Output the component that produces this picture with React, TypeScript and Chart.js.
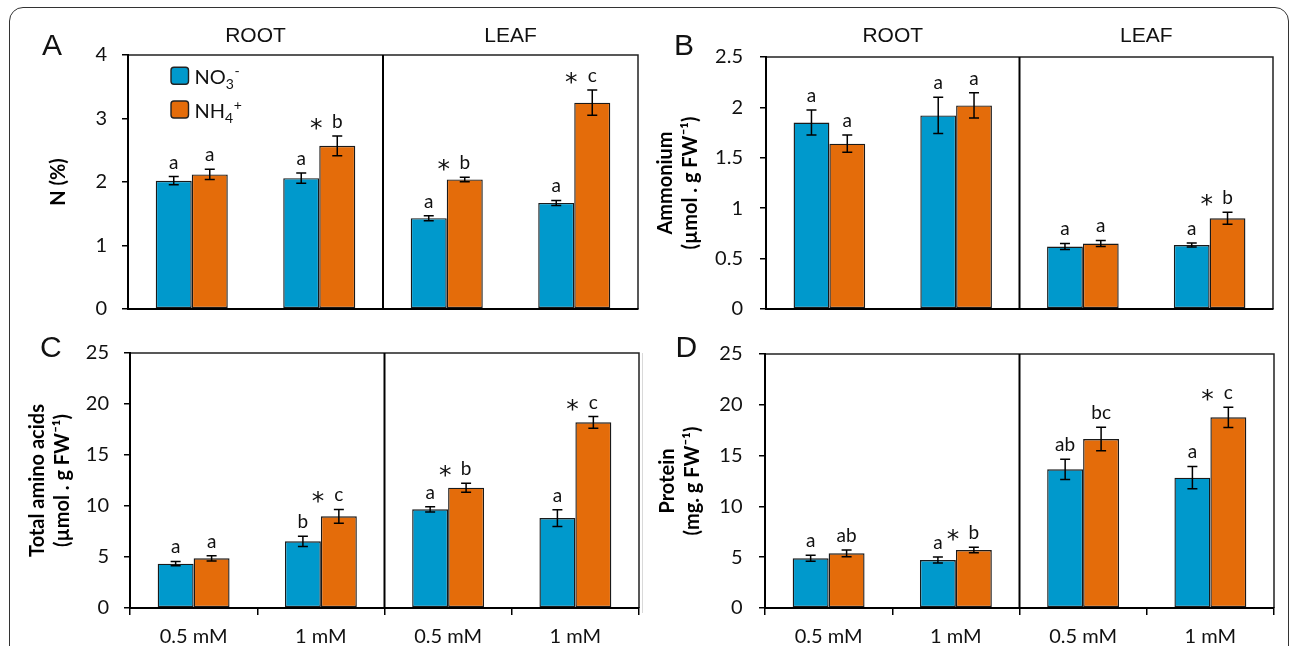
import React, { useEffect, useRef } from 'react';
import { Chart, registerables } from 'chart.js';

Chart.register(...registerables);

// ---------- data ----------
const categories = ['0.5 mM', '1 mM', '0.5 mM', '1 mM'];
const tissues = ['ROOT', 'LEAF'];
const seriesLabels = ['NO₃⁻', 'NH₄⁺'];
const legendBase = ['NO', 'NH'];
const legendSub = ['3', '4'];
const legendSup = ['-', '+'];

// Panel A: N (%)
const nTicks = [0, 1, 2, 3, 4];
const nNo3 = [2.02, 2.06, 1.43, 1.67];
const nNo3Err = [0.065, 0.08, 0.04, 0.04];
const nNh4 = [2.12, 2.57, 2.04, 3.25];
const nNh4Err = [0.08, 0.155, 0.035, 0.2];
const nNo3Letters = ['a', 'a', 'a', 'a'];
const nNh4Letters = ['a', 'b', 'b', 'c'];
const nStars = [false, true, true, true];

// Panel B: Ammonium
const amTicks = [0, 0.5, 1, 1.5, 2, 2.5];
const amNo3 = [1.85, 1.92, 0.62, 0.635];
const amNo3Err = [0.125, 0.18, 0.03, 0.02];
const amNh4 = [1.64, 2.02, 0.65, 0.9];
const amNh4Err = [0.085, 0.125, 0.03, 0.06];
const amNo3Letters = ['a', 'a', 'a', 'a'];
const amNh4Letters = ['a', 'a', 'a', 'b'];
const amStars = [false, false, false, true];

// Panel C: Total amino acids
const aaTicks = [0, 5, 10, 15, 20, 25];
const aaNo3 = [4.35, 6.54, 9.67, 8.82];
const aaNo3Err = [0.22, 0.5, 0.25, 0.82];
const aaNh4 = [4.87, 8.99, 11.8, 18.2];
const aaNh4Err = [0.26, 0.67, 0.44, 0.57];
const aaNo3Letters = ['a', 'b', 'a', 'a'];
const aaNh4Letters = ['a', 'c', 'b', 'c'];
const aaStars = [false, true, true, true];

// Panel D: Protein
const prTicks = [0, 5, 10, 15, 20, 25];
const prNo3 = [4.89, 4.72, 13.65, 12.83];
const prNo3Err = [0.3, 0.3, 1.0, 1.1];
const prNh4 = [5.38, 5.71, 16.63, 18.77];
const prNh4Err = [0.33, 0.28, 1.16, 1.0];
const prNo3Letters = ['a', 'a', 'ab', 'a'];
const prNh4Letters = ['ab', 'b', 'bc', 'c'];
const prStars = [false, true, false, true];

// ---------- styles ----------
const BLUE = '#0099CC';
const ORANGE = '#E46C0A';
const EDGE = '#1a1a1a';
const TEXT = '#111';
const SANS = 'Lato, "DejaVu Sans", sans-serif';
const ARIAL = '"Liberation Sans", Arial, sans-serif';
const STAR_FONT = '"DejaVu Sans", sans-serif';

type PanelData = {
  letter: string;
  yTitle: string | string[];
  yTicks: number[];
  no3: number[];
  no3Err: number[];
  nh4: number[];
  nh4Err: number[];
  no3Letters: string[];
  nh4Letters: string[];
  stars: boolean[];
  showX: boolean;
  showTissue: boolean;
  showLegend: boolean;
};

type PanelLayout = {
  left: number;
  top: number;
  width: number;
  height: number;
  padT: number;
  padR: number;
  yW: number;
  xH: number;
  titlePad: number;
  tickPad: number;
  letterX: number;
  letterY: number;
};

const panels: { data: PanelData; layout: PanelLayout }[] = [
  {
    data: {
      letter: 'A', yTitle: 'N (%)', yTicks: nTicks,
      no3: nNo3, no3Err: nNo3Err, nh4: nNh4, nh4Err: nNh4Err,
      no3Letters: nNo3Letters, nh4Letters: nNh4Letters, stars: nStars,
      showX: false, showTissue: true, showLegend: true,
    },
    layout: { left: 0, top: 0, width: 646, height: 350, padT: 55, padR: 8, yW: 128, xH: 41, titlePad: 46.4, tickPad: 15, letterX: 42, letterY: 55 },
  },
  {
    data: {
      letter: 'B', yTitle: ['Ammonium', '(µmol . g FW⁻¹)'], yTicks: amTicks,
      no3: amNo3, no3Err: amNo3Err, nh4: amNh4, nh4Err: amNh4Err,
      no3Letters: amNo3Letters, nh4Letters: amNh4Letters, stars: amStars,
      showX: false, showTissue: true, showLegend: false,
    },
    layout: { left: 646, top: 0, width: 646, height: 350, padT: 57, padR: 19, yW: 120, xH: 41, titlePad: 7.1, tickPad: 17, letterX: 28, letterY: 55 },
  },
  {
    data: {
      letter: 'C', yTitle: ['Total amino acids', '(µmol . g FW⁻¹)'], yTicks: aaTicks,
      no3: aaNo3, no3Err: aaNo3Err, nh4: aaNh4, nh4Err: aaNh4Err,
      no3Letters: aaNo3Letters, nh4Letters: aaNh4Letters, stars: aaStars,
      showX: true, showTissue: false, showLegend: false,
    },
    layout: { left: 0, top: 323, width: 646, height: 323, padT: 30, padR: 7, yW: 130, xH: 38, titlePad: 24.8, tickPad: 15, letterX: 40, letterY: 33.5 },
  },
  {
    data: {
      letter: 'D', yTitle: ['Protein', '(mg. g FW⁻¹)'], yTicks: prTicks,
      no3: prNo3, no3Err: prNo3Err, nh4: prNh4, nh4Err: prNh4Err,
      no3Letters: prNo3Letters, nh4Letters: prNh4Letters, stars: prStars,
      showX: true, showTissue: false, showLegend: false,
    },
    layout: { left: 646, top: 323, width: 646, height: 323, padT: 31, padR: 18, yW: 119, xH: 38, titlePad: 8.8, tickPad: 16.5, letterX: 29.6, letterY: 33.5 },
  },
];

// ---------- plugin ----------
const decorPlugin = {
  id: 'decor',
  afterDatasetsDraw(chart: any, _args: any, opts: any) {
    const p: PanelData = opts.panel;
    const ctx: CanvasRenderingContext2D = chart.ctx;
    const xs = chart.scales.x;
    const ys = chart.scales.y;
    const ca = chart.chartArea;
    ctx.save();
    // plot box top & right
    ctx.strokeStyle = '#222';
    ctx.lineWidth = 1.5;
    ctx.beginPath();
    ctx.moveTo(ca.left, ca.top);
    ctx.lineTo(ca.right, ca.top);
    ctx.lineTo(ca.right, ca.bottom);
    ctx.stroke();
    // ROOT / LEAF divider
    const dx = xs.getPixelForValue(1.5);
    ctx.strokeStyle = '#000';
    ctx.lineWidth = 2;
    ctx.beginPath();
    ctx.moveTo(dx, ca.top);
    ctx.lineTo(dx, ca.bottom);
    ctx.stroke();

    const sets = [
      { vals: p.no3, errs: p.no3Err, letters: p.no3Letters },
      { vals: p.nh4, errs: p.nh4Err, letters: p.nh4Letters },
    ];
    sets.forEach((s, d) => {
      const meta = chart.getDatasetMeta(d);
      meta.data.forEach((bar: any, i: number) => {
        const x = bar.x;
        const hi = ys.getPixelForValue(s.vals[i] + s.errs[i]);
        const lo = ys.getPixelForValue(s.vals[i] - s.errs[i]);
        ctx.strokeStyle = '#000';
        ctx.lineWidth = 1.5;
        ctx.beginPath();
        ctx.moveTo(x, hi);
        ctx.lineTo(x, lo);
        ctx.moveTo(x - 5, hi);
        ctx.lineTo(x + 5, hi);
        ctx.moveTo(x - 5, lo);
        ctx.lineTo(x + 5, lo);
        ctx.stroke();
        const base = hi - 8;
        ctx.fillStyle = TEXT;
        ctx.textAlign = 'center';
        ctx.textBaseline = 'alphabetic';
        ctx.font = `19px ${SANS}`;
        ctx.fillText(s.letters[i], x, base);
        if (d === 1 && p.stars[i]) {
          ctx.font = `25px ${STAR_FONT}`;
          const m = ctx.measureText('*');
          const cy = base - 4;
          const yy = cy + (m.actualBoundingBoxAscent - m.actualBoundingBoxDescent) / 2;
          ctx.fillText('*', bar.x - bar.width / 2 - 3, yy);
        }
      });
    });
    ctx.restore();
  },
  afterDraw(chart: any, _args: any, opts: any) {
    const p: PanelData = opts.panel;
    const L: PanelLayout = opts.layout;
    const ctx: CanvasRenderingContext2D = chart.ctx;
    const xs = chart.scales.x;
    const ca = chart.chartArea;
    ctx.save();
    ctx.fillStyle = TEXT;
    ctx.textBaseline = 'alphabetic';
    // panel letter
    ctx.font = `30px ${ARIAL}`;
    ctx.textAlign = 'left';
    ctx.fillText(p.letter, L.letterX, L.letterY);
    // tissue labels
    if (p.showTissue) {
      ctx.font = `21px ${ARIAL}`;
      ctx.textAlign = 'center';
      tissues.forEach((t, k) => {
        ctx.fillText(t, xs.getPixelForValue(0.5 + 2 * k), 41.7);
      });
    }
    // legend
    if (p.showLegend) {
      const colors = [BLUE, ORANGE];
      const bx = ca.left + 43;
      const by = ca.top + 12.3;
      legendBase.forEach((b, k) => {
        const top = by + k * 33.7;
        ctx.beginPath();
        (ctx as any).roundRect(bx, top, 17.5, 17, 3);
        ctx.fillStyle = colors[k];
        ctx.fill();
        ctx.strokeStyle = '#222';
        ctx.lineWidth = 1.4;
        ctx.stroke();
        ctx.fillStyle = TEXT;
        ctx.textAlign = 'left';
        let tx = bx + 17.5 + 6;
        const base = top + 17;
        ctx.font = `20px ${SANS}`;
        ctx.fillText(b, tx, base);
        tx += ctx.measureText(b).width;
        ctx.font = `14px ${SANS}`;
        ctx.fillText(legendSub[k], tx, base + 5);
        tx += ctx.measureText(legendSub[k]).width + 0.5;
        ctx.fillText(legendSup[k], tx, base - 8.5);
      });
    }
    ctx.restore();
  },
};

function buildConfig(p: PanelData, L: PanelLayout): any {
  const tickFont = { family: SANS, size: 20 };
  return {
    type: 'bar',
    data: {
      labels: categories,
      datasets: [
        {
          label: seriesLabels[0], data: p.no3, backgroundColor: BLUE, borderColor: EDGE,
          borderWidth: 1.4, borderSkipped: false, categoryPercentage: 0.565, barPercentage: 1,
        },
        {
          label: seriesLabels[1], data: p.nh4, backgroundColor: ORANGE, borderColor: EDGE,
          borderWidth: 1.4, borderSkipped: false, categoryPercentage: 0.565, barPercentage: 1,
        },
      ],
    },
    options: {
      responsive: false,
      maintainAspectRatio: false,
      animation: false,
      events: [],
      layout: { padding: { left: 0, top: L.padT, right: L.padR, bottom: 0 } },
      plugins: {
        legend: { display: false },
        tooltip: { enabled: false },
        decor: { panel: p, layout: L },
      },
      scales: {
        x: {
          offset: true,
          grid: {
            display: p.showX, drawOnChartArea: false, drawTicks: true, tickLength: 7,
            offset: true, color: '#000', lineWidth: 1.5,
          },
          border: { display: true, color: '#000', width: 2, z: 1 },
          ticks: {
            display: p.showX, font: tickFont, color: TEXT, padding: 10,
            maxRotation: 0, autoSkip: false,
          },
          afterFit: (s: any) => { s.height = L.xH; },
        },
        y: {
          min: p.yTicks[0],
          max: p.yTicks[p.yTicks.length - 1],
          ticks: {
            stepSize: p.yTicks[1] - p.yTicks[0], font: tickFont, color: TEXT, padding: L.tickPad,
            callback: (v: any) => String(Number(v)),
          },
          grid: { display: true, drawOnChartArea: false, drawTicks: true, tickLength: 6, color: '#000', lineWidth: 1.5 },
          border: { display: true, color: '#000', width: 2, z: 1 },
          title: {
            display: true, text: p.yTitle, color: '#000',
            font: { family: SANS, size: 20, weight: 'bold', lineHeight: 1.25 },
            padding: { top: L.titlePad, bottom: 0 },
          },
          afterFit: (s: any) => { s.width = L.yW; },
        },
      },
    },
    plugins: [decorPlugin],
  };
}

function Panel({ data, layout }: { data: PanelData; layout: PanelLayout }) {
  const ref = useRef<HTMLCanvasElement>(null);
  useEffect(() => {
    const chart = new Chart(ref.current as HTMLCanvasElement, buildConfig(data, layout));
    return () => chart.destroy();
  }, [data, layout]);
  return (
    <canvas
      ref={ref}
      width={layout.width}
      height={layout.height}
      style={{ position: 'absolute', left: layout.left, top: layout.top, width: layout.width, height: layout.height }}
    />
  );
}

export default function App() {
  return (
    <div style={{ position: 'absolute', left: 0, top: 0, width: 1292, height: 646, overflow: 'hidden', background: '#fff' }}>
      <div
        style={{
          position: 'absolute', left: 9.25, top: 7.25, width: 1280, height: 720,
          border: '1.5px solid #333', borderRadius: 14, boxSizing: 'border-box',
        }}
      />
      <div style={{ position: 'absolute', left: 641.5, top: 353, width: 1.5, height: 260, background: '#d9d9d9' }} />
      {panels.map((pn, k) => (
        <Panel key={k} data={pn.data} layout={pn.layout} />
      ))}
    </div>
  );
}
